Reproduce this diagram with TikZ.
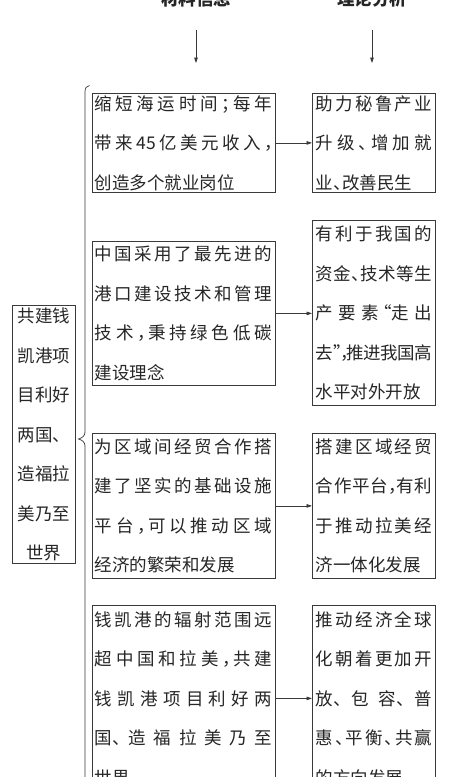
\documentclass[tikz,border=0pt]{standalone}
\usepackage{fontspec}
\setmainfont{Noto Sans CJK SC}
\usetikzlibrary{arrows.meta}
\definecolor{bc}{HTML}{3A3A3A}
\definecolor{tc}{HTML}{262626}
\newcommand\jglue{\hskip 0pt plus 1fil minus 1.5pt\relax}
\ExplSyntaxOn
\NewDocumentCommand\Jl{m}{\hbox to \hsize{\tl_map_inline:nn{#1}{##1\jglue}\unskip}}
\ExplSyntaxOff
\newcommand\Nl[1]{\hbox{#1}}
\newcommand\Cl[1]{\hbox to \hsize{\hfil#1\hfil}}
\newcommand\pDN{\makebox[0.5em][l]{、}}
\newcommand\pCM{\makebox[0.4em][l]{，}}
\newcommand\pSC{\makebox[0.5em][l]{；}}
\newcommand\pLQ{\makebox[0.45em][r]{“}}
\newcommand\pRQ{\makebox[0.4em][l]{”}}
\newcommand\tb[2]{\vbox{\hsize=#1\relax\baselineskip=39.5pt\lineskip=0pt\lineskiplimit=-100pt#2}}
\tikzset{
  bx/.style={draw=bc, line width=0.8pt, inner sep=0pt, anchor=north west, text=tc},
  lb/.style={bx, minimum width=183pt},
  rb/.style={bx, minimum width=123pt},
  arr/.style={draw=bc, line width=0.7pt, -{Triangle[length=5.5pt,width=3.6pt]}},
  brc/.style={draw=bc, line width=0.7pt},
  hd/.style={inner sep=0pt, text=tc, font=\fontsize{17.5}{20}\selectfont\bfseries}
}
\begin{document}
\begin{tikzpicture}[x=1pt,y=-1pt, font=\fontsize{17.5}{39.5}\selectfont]
\useasboundingbox (0,0) rectangle (450,777);
\clip (0,0) rectangle (450,777);
\fill[white] (0,0) rectangle (450,777);
% headers
\node[hd] (h1) at (196,-1.5) {材料信息};
\node[hd] (h2) at (372,-1.5) {理论分析};
% main box
\node[bx, minimum width=63pt, minimum height=258pt] (m) at (12,305)
  {\tb{63pt}{\Cl{共建钱}\Cl{凯港项}\Cl{目利好}\Cl{两国、}\Cl{造福拉}\Cl{美乃至}\Cl{世界}}};
% row 1
\node[lb, minimum height=99pt] (l1) at (91.5,93)
  {\tb{177pt}{\Jl{缩短海运时间\pSC 每年}\Jl{带来{45}亿美元收入\pCM}\Nl{创造多个就业岗位}}};
\node[rb, minimum height=99pt] (r1) at (312,93)
  {\tb{116pt}{\Jl{助力秘鲁产业}\Jl{升级\pDN 增加就}\Nl{业\pDN 改善民生}}};
% row 2
\node[lb, minimum height=144pt] (l2) at (91.5,241)
  {\tb{177pt}{\Jl{中国采用了最先进的}\Jl{港口建设技术和管理}\Jl{技术\pCM 秉持绿色低碳}\Nl{建设理念}}};
\node[rb, minimum height=185pt] (r2) at (312,220)
  {\tb{116pt}{\Jl{有利于我国的}\Jl{资金\pDN 技术等生}\Jl{产要素{\pLQ 走}出}\Jl{{去\pRQ\pCM}推进我国高}\Nl{水平对外开放}}};
% row 3
\node[lb, minimum height=145pt] (l3) at (91.5,433)
  {\tb{177pt}{\Jl{为区域间经贸合作搭}\Jl{建了坚实的基础设施}\Jl{平台\pCM 可以推动区域}\Nl{经济的繁荣和发展}}};
\node[rb, minimum height=145pt] (r3) at (312,433)
  {\tb{116pt}{\Jl{搭建区域经贸}\Jl{合作平台\pCM 有利}\Jl{于推动拉美经}\Nl{济一体化发展}}};
% row 4
\node[lb, minimum height=186pt] (l4) at (91.5,605)
  {\tb{177pt}{\Jl{钱凯港的辐射范围远}\Jl{超中国和拉美\pCM 共建}\Jl{钱凯港项目利好两}\Jl{{国\pDN}造福拉美乃至}\Nl{世界}}};
\node[rb, minimum height=186pt] (r4) at (312,605)
  {\tb{116pt}{\Jl{推动经济全球}\Jl{化朝着更加开}\Jl{{放\pDN}包{容\pDN}普}\Jl{惠\pDN 平衡\pDN 共赢}\Nl{的方向发展}}};
% header arrows
\draw[arr, shorten <=31.5pt, shorten >=30pt] (h1.center) -- (h1.center |- l1.north);
\draw[arr, shorten <=31.5pt, shorten >=30pt] (h2.center) -- (h2.center |- r1.north);
% row arrows
\draw[arr] (l1.east) -- (r1.west |- l1.east);
\draw[arr] (l2.east) -- (r2.west |- l2.east);
\draw[arr] (l3.east) -- (r3.west |- l3.east);
\draw[arr] (l4.east) -- (r4.west |- l4.east);
% brace
\draw[brc] (89.5,85.5) .. controls (86.5,86) and (85,88) .. (85,92) -- (85,432)
  .. controls (85,436) and (82,438) .. (78.5,439)
  .. controls (82,440) and (85,442) .. (85,446) -- (85,790);
\end{tikzpicture}
\end{document}
